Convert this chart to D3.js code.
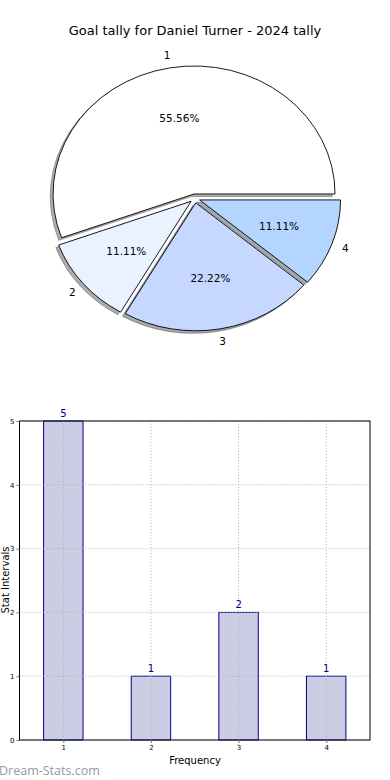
<!DOCTYPE html>
<html><head><meta charset="utf-8">
<script src="https://cdn.jsdelivr.net/npm/d3@7"></script>
<style>body{margin:0;background:#fff}svg{display:block;font-family:"DejaVu Sans",sans-serif}</style>
</head><body>
<svg id="c" width="390" height="780"></svg>
<script>
const title = "Goal tally for Daniel Turner - 2024 tally";
const categories = ["1", "2", "3", "4"];
const values = [5, 1, 2, 1];
const sliceColors = ["#ffffff", "#eaf1ff", "#c6d8ff", "#b4d5ff"];
const explode = [0.035, 0.035, 0.035, 0.035];
const yTicks = [0, 1, 2, 3, 4, 5];
const xLabel = "Frequency";
const yLabel = "Stat Intervals";
const watermark = "Dream-Stats.com";

const svg = d3.select("#c");

// ---------- Pie ----------
const cx = 194.9, cy = 198.4, rx = 141, ry = 128;
svg.append("text").attr("x", 195).attr("y", 35).attr("text-anchor", "middle")
  .attr("font-size", 13).attr("fill", "#000").text(title);

const pie = d3.pie().sort(null).startAngle(Math.PI / 2).endAngle(Math.PI / 2 - 2 * Math.PI);
const arcs = pie(values);
const arc = d3.arc().innerRadius(0).outerRadius(rx);
const total = d3.sum(values);
const pieG = svg.append("g");

function shade(c) {
  const r = d3.rgb(c);
  return `rgb(${Math.round(r.r * 0.3)},${Math.round(r.g * 0.3)},${Math.round(r.b * 0.3)})`;
}

arcs.forEach((a, i) => {
  const mid = (a.startAngle + a.endAngle) / 2;
  const dx = explode[i] * rx * Math.sin(mid);
  const dy = -explode[i] * ry * Math.cos(mid);
  const px = cx + dx, py = cy + dy;
  // shadow
  pieG.append("path").attr("d", arc(a))
    .attr("transform", `translate(${px - 0.02 * rx},${py + 0.02 * ry}) scale(1,${ry / rx})`)
    .attr("fill", shade(sliceColors[i])).attr("fill-opacity", 0.45)
    .attr("stroke", shade(sliceColors[i])).attr("stroke-opacity", 0.45)
    .attr("vector-effect", "non-scaling-stroke");
  pieG.append("path").attr("d", arc(a))
    .attr("transform", `translate(${px},${py}) scale(1,${ry / rx})`)
    .attr("fill", sliceColors[i]).attr("stroke", "#000").attr("stroke-width", 0.9)
    .attr("stroke-linejoin", "round")
    .attr("vector-effect", "non-scaling-stroke");
  // label
  pieG.append("text")
    .attr("x", px + 1.1 * rx * Math.sin(mid)).attr("y", py - 1.1 * ry * Math.cos(mid))
    .attr("text-anchor", "middle").attr("dominant-baseline", "central")
    .attr("font-size", 10.5).text(categories[i]);
  pieG.append("text")
    .attr("x", px + 0.6 * rx * Math.sin(mid)).attr("y", py - 0.6 * ry * Math.cos(mid))
    .attr("text-anchor", "middle").attr("dominant-baseline", "central")
    .attr("font-size", 10.5).text((values[i] / total * 100).toFixed(2) + "%");
});

// ---------- Bar chart ----------
const L = 19.5, R = 370, T = 421, B = 740;
const x = d3.scaleLinear().domain([0.5, 4.5]).range([L, R]);
const y = d3.scaleLinear().domain([0, 5]).range([B, T]);
const bw = 0.45;
const g = svg.append("g");

g.selectAll("rect.bar").data(values).enter().append("rect")
  .attr("x", (d, i) => x(i + 1 - bw / 2))
  .attr("width", (d, i) => x(i + 1 + bw / 2) - x(i + 1 - bw / 2))
  .attr("y", d => y(d)).attr("height", d => y(0) - y(d))
  .attr("fill", "#ccccE5").attr("stroke", "#00008b").attr("stroke-width", 1);

// grid
g.selectAll("line.gy").data(yTicks).enter().append("line")
  .attr("x1", L).attr("x2", R).attr("y1", d => y(d)).attr("y2", d => y(d))
  .attr("stroke", "#b0b0b0").attr("stroke-dasharray", "1,2");
g.selectAll("line.gx").data(categories).enter().append("line")
  .attr("x1", (d, i) => x(i + 1)).attr("x2", (d, i) => x(i + 1)).attr("y1", T).attr("y2", B)
  .attr("stroke", "#b0b0b0").attr("stroke-dasharray", "1,2");

// frame
g.append("rect").attr("x", L).attr("y", T).attr("width", R - L).attr("height", B - T)
  .attr("fill", "none").attr("stroke", "#000").attr("stroke-width", 1);

// axes
const yAxis = d3.axisLeft(y).tickValues(yTicks).tickFormat(d3.format("d")).tickSize(3).tickPadding(2);
const ya = g.append("g").attr("transform", `translate(${L},0)`).call(yAxis);
const xAxis = d3.axisBottom(x).tickValues([1, 2, 3, 4]).tickFormat((d, i) => categories[i]).tickSize(3).tickPadding(2);
const xa = g.append("g").attr("transform", `translate(0,${B})`).call(xAxis);
[ya, xa].forEach(a => {
  a.select(".domain").remove();
  a.selectAll("text").attr("font-size", 7).attr("font-family", "DejaVu Sans").attr("fill", "#000");
  a.selectAll("line").attr("stroke", "#777");
});

// value labels
g.selectAll("text.val").data(values).enter().append("text")
  .attr("x", (d, i) => x(i + 1)).attr("y", d => y(d) - 4)
  .attr("text-anchor", "middle").attr("font-size", 10).attr("fill", "#00008b").text(d => d);

svg.append("text").attr("x", 195).attr("y", 764).attr("text-anchor", "middle")
  .attr("font-size", 10).text(xLabel);
svg.append("text").attr("transform", `translate(9,580) rotate(-90)`).attr("text-anchor", "middle")
  .attr("font-size", 10).text(yLabel);

svg.append("text").attr("x", -1).attr("y", 775).attr("font-size", 12.5)
  .attr("fill", "#999").attr("font-family", "Open Sans, DejaVu Sans").text(watermark);
</script>
</body></html>
